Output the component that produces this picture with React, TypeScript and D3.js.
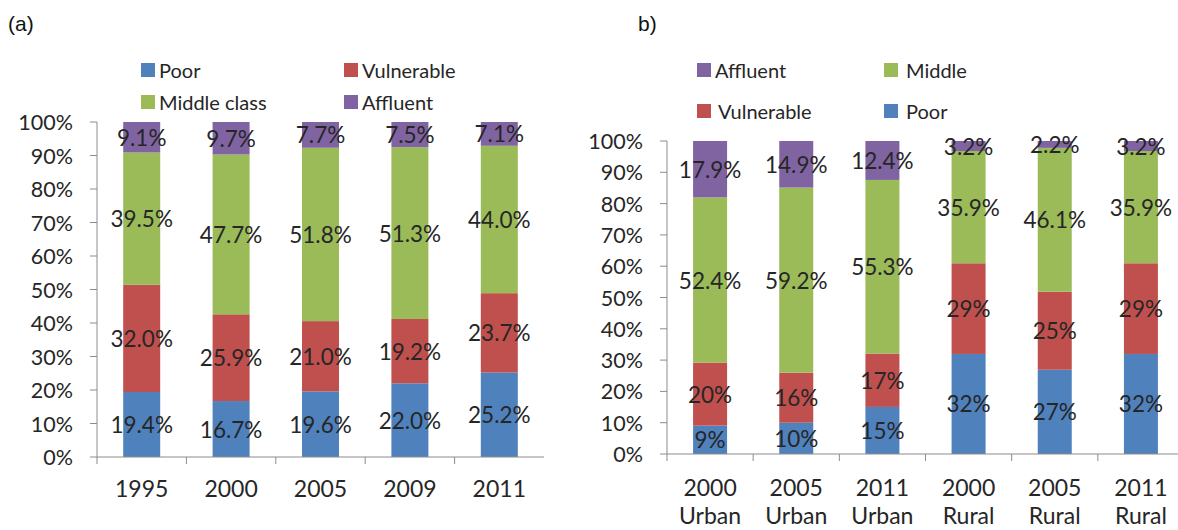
import React from "react";
import * as d3 from "d3";

// ---- Data: chart (a) ----
const yearsA = ["1995", "2000", "2005", "2009", "2011"];
const poorA = [19.4, 16.7, 19.6, 22.0, 25.2];
const vulnerableA = [32.0, 25.9, 21.0, 19.2, 23.7];
const middleA = [39.5, 47.7, 51.8, 51.3, 44.0];
const affluentA = [9.1, 9.7, 7.7, 7.5, 7.1];
const labelsA = {
  poor: ["19.4%", "16.7%", "19.6%", "22.0%", "25.2%"],
  vulnerable: ["32.0%", "25.9%", "21.0%", "19.2%", "23.7%"],
  middle: ["39.5%", "47.7%", "51.8%", "51.3%", "44.0%"],
  affluent: ["9.1%", "9.7%", "7.7%", "7.5%", "7.1%"],
};

// ---- Data: chart (b) ----
const yearsB = ["2000", "2005", "2011", "2000", "2005", "2011"];
const areasB = ["Urban", "Urban", "Urban", "Rural", "Rural", "Rural"];
const poorB = [9, 10, 15, 32, 27, 32];
const vulnerableB = [20, 16, 17, 29, 25, 29];
const middleB = [52.4, 59.2, 55.3, 35.9, 46.1, 35.9];
const affluentB = [17.9, 14.9, 12.4, 3.2, 2.2, 3.2];
const labelsB = {
  poor: ["9%", "10%", "15%", "32%", "27%", "32%"],
  vulnerable: ["20%", "16%", "17%", "29%", "25%", "29%"],
  middle: ["52.4%", "59.2%", "55.3%", "35.9%", "46.1%", "35.9%"],
  affluent: ["17.9%", "14.9%", "12.4%", "3.2%", "2.2%", "3.2%"],
};

const yTicks = [0, 0.1, 0.2, 0.3, 0.4, 0.5, 0.6, 0.7, 0.8, 0.9, 1.0];
const keys = ["poor", "vulnerable", "middle", "affluent"] as const;
const colors: Record<string, string> = {
  poor: "#4F81BD",
  vulnerable: "#C0504D",
  middle: "#9BBB59",
  affluent: "#8064A2",
};

const FONT = "Lato, 'Open Sans', sans-serif";
const TXT = "#262626";
const AXIS = "#8c8c8c";

type ChartProps = {
  cats: string[];
  sub?: string[];
  series: Record<string, number[]>;
  labels: Record<string, string[]>;
  x0: number;
  x1: number;
  yTop: number;
  yBot: number;
  barW: number;
};

function Chart({ cats, sub, series, labels, x0, x1, yTop, yBot, barW }: ChartProps) {
  const ids = cats.map((_, i) => String(i));
  const x = d3.scaleBand<string>().domain(ids).range([x0, x1]).padding(0);
  const y = d3.scaleLinear().domain([0, 1]).range([yBot, yTop]);
  const rows = ids.map((id, i) => {
    const r: any = { id };
    keys.forEach((k) => (r[k] = series[k][i]));
    return r;
  });
  const stacked = d3.stack<any>().keys(keys as any).offset(d3.stackOffsetExpand)(rows);
  const fmt = d3.format(".0%");
  return (
    <g>
      {stacked.map((layer) => (
        <g key={layer.key}>
          {layer.map((d, i) => {
            const cx = (x(ids[i]) as number) + x.bandwidth() / 2;
            return (
              <rect
                key={i}
                x={cx - barW / 2}
                y={y(d[1])}
                width={barW}
                height={y(d[0]) - y(d[1])}
                fill={colors[layer.key]}
              />
            );
          })}
        </g>
      ))}
      {stacked.map((layer) => (
        <g key={"l" + layer.key}>
          {layer.map((d, i) => {
            const cx = (x(ids[i]) as number) + x.bandwidth() / 2;
            return (
              <text
                key={i}
                x={cx}
                y={(y(d[0]) + y(d[1])) / 2}
                textAnchor="middle"
                dominantBaseline="central"
                fontFamily={FONT}
                fontSize={22.5}
                fill={TXT}
              >
                {labels[layer.key][i]}
              </text>
            );
          })}
        </g>
      ))}
      {/* y axis */}
      <line x1={x0} x2={x0} y1={yTop} y2={yBot} stroke={AXIS} strokeWidth={1} />
      {yTicks.map((t) => (
        <g key={t}>
          <line x1={x0 - 7} x2={x0} y1={y(t)} y2={y(t)} stroke={AXIS} strokeWidth={1} />
          <text
            x={x0 - 24}
            y={y(t)}
            textAnchor="end"
            dominantBaseline="central"
            fontFamily={FONT}
            fontSize={21.5}
            fill={TXT}
          >
            {fmt(t)}
          </text>
        </g>
      ))}
      {/* x axis */}
      <line x1={x0} x2={x1} y1={yBot} y2={yBot} stroke={AXIS} strokeWidth={1} />
      {ids.map((id) => (
        <line
          key={id}
          x1={x(id) as number}
          x2={x(id) as number}
          y1={yBot}
          y2={yBot + 7}
          stroke={AXIS}
          strokeWidth={1}
        />
      ))}
      {ids.map((id, i) => {
        const cx = (x(id) as number) + x.bandwidth() / 2;
        return (
          <g key={"x" + id}>
            <text
              x={cx}
              y={sub ? yBot + 33 : yBot + 31}
              textAnchor="middle"
              dominantBaseline="central"
              fontFamily={FONT}
              fontSize={23}
              fill={TXT}
            >
              {cats[i]}
            </text>
            {sub && (
              <text
                x={cx}
                y={yBot + 61}
                textAnchor="middle"
                dominantBaseline="central"
                fontFamily={FONT}
                fontSize={23}
                fill={TXT}
              >
                {sub[i]}
              </text>
            )}
          </g>
        );
      })}
    </g>
  );
}

function LegendItem({ x, y, color, label, gap = 18 }: { x: number; y: number; color: string; label: string; gap?: number }) {
  return (
    <g>
      <rect x={x} y={y - 7} width={14} height={14} fill={color} />
      <text x={x + gap} y={y} dominantBaseline="central" fontFamily={FONT} fontSize={20} fill={TXT}>
        {label}
      </text>
    </g>
  );
}

export default function App() {
  return (
    <svg
      width={1178}
      height={530}
      style={{ position: "absolute", left: 0, top: 0, background: "#fff" }}
    >
      <text x={8} y={23} dominantBaseline="central" fontFamily="'Liberation Sans', Arial, sans-serif" fontSize={21} fill="#111">
        (a)
      </text>
      <text x={638} y={23} dominantBaseline="central" fontFamily="'Liberation Sans', Arial, sans-serif" fontSize={21} fill="#111">
        b)
      </text>

      <LegendItem x={141} y={70} color={colors.poor} label="Poor" />
      <LegendItem x={344} y={70} color={colors.vulnerable} label="Vulnerable" />
      <LegendItem x={141} y={102} color={colors.middle} label="Middle class" />
      <LegendItem x={344} y={102} color={colors.affluent} label="Affluent" />

      <LegendItem x={697} y={70} color={colors.affluent} label="Affluent" />
      <LegendItem x={884} y={70} color={colors.middle} label="Middle" gap={22} />
      <LegendItem x={697} y={111} color={colors.vulnerable} label="Vulnerable" gap={21} />
      <LegendItem x={884} y={111} color={colors.poor} label="Poor" gap={22} />

      <Chart
        cats={yearsA}
        series={{ poor: poorA, vulnerable: vulnerableA, middle: middleA, affluent: affluentA }}
        labels={labelsA}
        x0={97}
        x1={544}
        yTop={122}
        yBot={457}
        barW={37}
      />
      <Chart
        cats={yearsB}
        sub={areasB}
        series={{ poor: poorB, vulnerable: vulnerableB, middle: middleB, affluent: affluentB }}
        labels={labelsB}
        x0={667}
        x1={1184}
        yTop={141}
        yBot={454}
        barW={34}
      />
    </svg>
  );
}
